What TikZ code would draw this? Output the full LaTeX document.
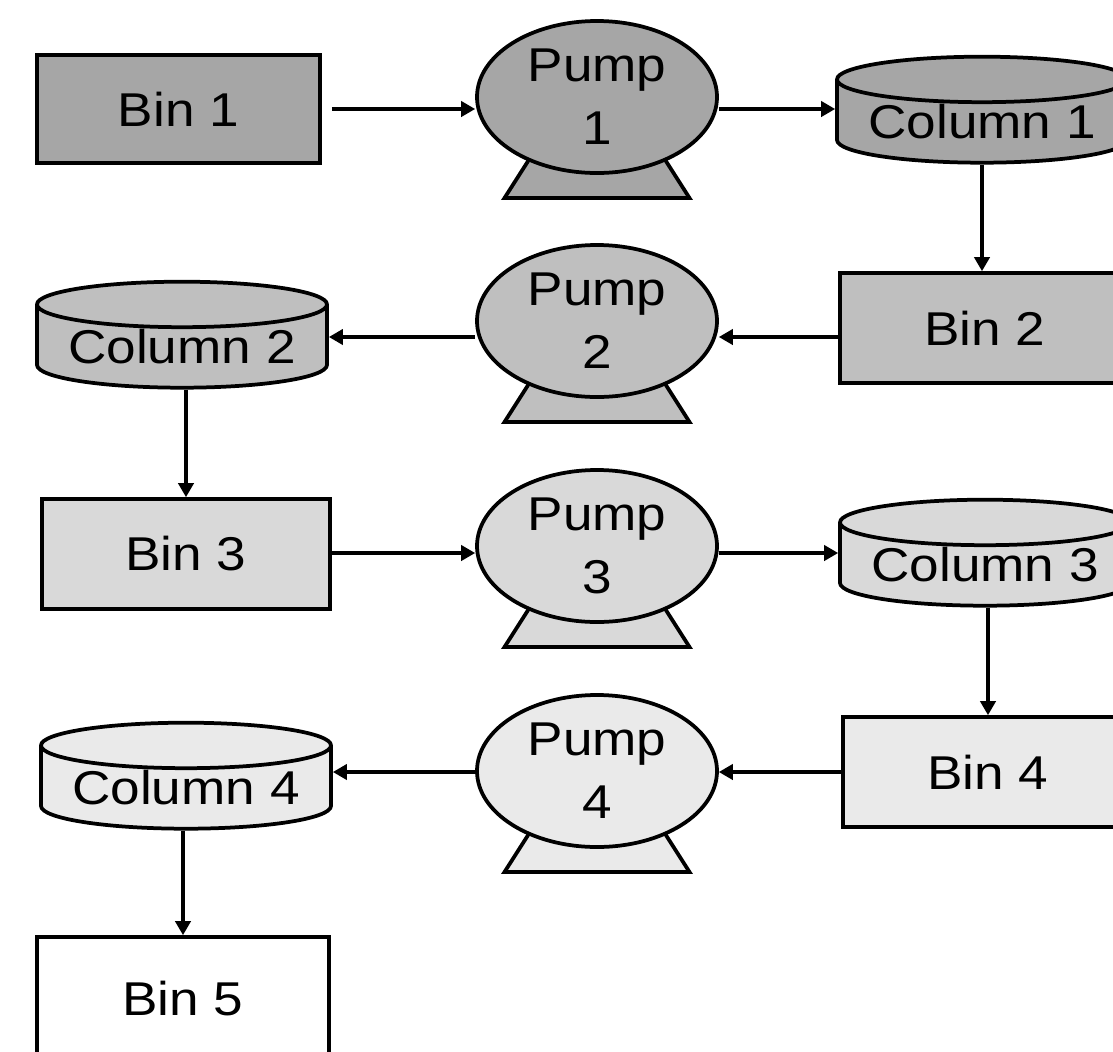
\documentclass[tikz,border=0pt]{standalone}
\usepackage{fontspec}
\usetikzlibrary{shapes.geometric, arrows.meta}
\newfontfamily\diagfont[FakeStretch=1.12]{Liberation Sans}
\newcommand{\px}{0.03cm}
\definecolor{shadeA}{HTML}{A6A6A6}
\definecolor{shadeB}{HTML}{BFBFBF}
\definecolor{shadeC}{HTML}{D9D9D9}
\definecolor{shadeD}{HTML}{EAEAEA}

\tikzset{
  outline/.style={draw=black, line width=3.2pt, line join=miter},
  binbox/.style={outline, rectangle, inner sep=0pt, minimum width=288*\px, minimum height=110*\px},
  column/.style={outline, cylinder, shape border rotate=90, aspect=0.2, inner sep=0pt,
    minimum width=290*\px, minimum height=106*\px},
  pumpshape/.style={outline, ellipse, inner sep=0pt, align=center,
    minimum width=240*\px, minimum height=152*\px},
  flow/.style={line width=2.6pt, -{Triangle[length=0.42cm, width=0.46cm]}}
}

\begin{document}
\begin{tikzpicture}[x=0.03cm, y=-0.03cm, font=\diagfont\fontsize{40.5}{54}\selectfont]

\useasboundingbox (0,0) rectangle (1113,1051);
\clip (0,0) rectangle (1113,1051);

% Pumps with their bases
\foreach \i/\y/\c in {1/97/shadeA, 2/321/shadeB, 3/546/shadeC, 4/771/shadeD} {
  \draw[outline, fill=\c] (542.8,\y+41) -- (651.2,\y+41) -- (689.5,\y+101) -- (504.5,\y+101) -- cycle;
  \node[pumpshape, fill=\c] (pump\i) at (597,\y) {Pump\\\i};
}

% Bins
\node[binbox, fill=shadeA, minimum width=283*\px, minimum height=108*\px] (bin1) at (178.5,109) {Bin 1};
\node[binbox, fill=shadeB, minimum width=290*\px] (bin2) at (985,328) {Bin 2};
\node[binbox, fill=shadeC] (bin3) at (186,554) {Bin 3};
\node[binbox, fill=shadeD, minimum width=290*\px] (bin4) at (988,772) {Bin 4};
\node[binbox, fill=white, minimum width=292*\px, minimum height=124*\px] (bin5) at (183,999) {Bin 5};

% Columns
\node[column, fill=shadeA] (col1) at (982,122) {Column 1};
\node[column, fill=shadeB] (col2) at (182,347) {Column 2};
\node[column, fill=shadeC] (col3) at (985,565) {Column 3};
\node[column, fill=shadeD] (col4) at (186,788) {Column 4};

% Flow levels of the rows
\coordinate (lvl1) at (0,109);
\coordinate (lvl2) at (0,337);
\coordinate (lvl3) at (0,553);
\coordinate (lvl4) at (0,772);

% Row 1: left to right
\draw[flow, shorten <=10*\px] (bin1.east |- lvl1) -- (pump1.west |- lvl1);
\draw[flow] (pump1.east |- lvl1) -- (col1.west |- lvl1);
\draw[flow] (col1.south) -- (col1.south |- bin2.north);

% Row 2: right to left
\draw[flow] (bin2.west |- lvl2) -- (pump2.east |- lvl2);
\draw[flow] (pump2.west |- lvl2) -- (col2.east |- lvl2);
\draw[flow] (bin3.north |- col2.south) -- (bin3.north);

% Row 3: left to right
\draw[flow] (bin3.east |- lvl3) -- (pump3.west |- lvl3);
\draw[flow] (pump3.east |- lvl3) -- (col3.west |- lvl3);
\draw[flow] (bin4.north |- col3.south) -- (bin4.north);

% Row 4: right to left
\draw[flow] (bin4.west |- lvl4) -- (pump4.east |- lvl4);
\draw[flow] (pump4.west |- lvl4) -- (col4.east |- lvl4);
\draw[flow] (bin5.north |- col4.south) -- (bin5.north);

\end{tikzpicture}
\end{document}
